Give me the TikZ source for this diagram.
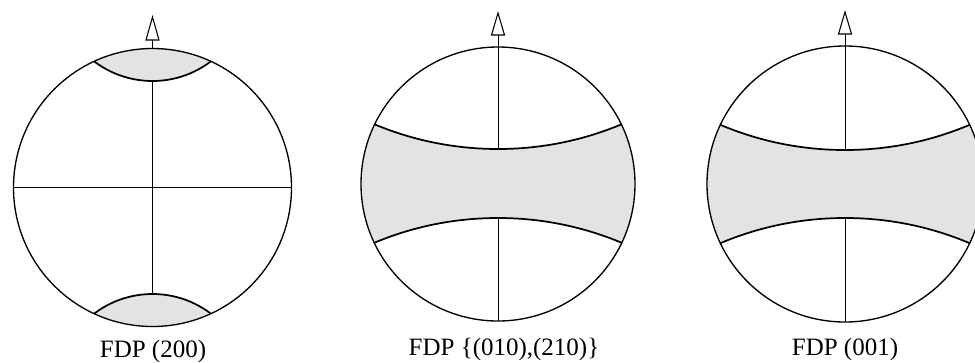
\documentclass[tikz,border=0pt]{standalone}
\usepackage{fontspec}
\setmainfont{Liberation Serif}
\begin{document}
\begin{tikzpicture}[x=0.75pt,y=-0.75pt,
  outline/.style={line width=1pt},
  bandedge/.style={line width=1.3pt},
  axisline/.style={line width=0.7pt},
  shadefill/.style={fill=gray!22},
  openhead/.style={fill=white, line width=0.8pt, line join=miter},
  caption/.style={font=\fontsize{18.75}{20}\selectfont, anchor=base, inner sep=0pt}]
\useasboundingbox (0,0) rectangle (975,362);

% ---------- pole figure 1 : FDP (200)
\coordinate (c1) at (152.5,187.5);
\coordinate (c1top) at (152.5,48.5);
\coordinate (c1bot) at (152.5,326.5);
\coordinate (c1left) at (13.5,187.5);
\coordinate (c1right) at (291.5,187.5);
\draw[axisline] (c1top) -- (c1bot);
\draw[axisline] (c1left) -- (c1right);
\begin{scope}
  \clip (c1) circle (139);
  \fill[shadefill] (152.5,-15.5) circle (96.5);
  \fill[shadefill] (152.5,390.5) circle (96.5);
  \draw[bandedge] (152.5,-15.5) circle (96.5);
  \draw[bandedge] (152.5,390.5) circle (96.5);
\end{scope}
\draw[outline] (c1) circle (139);
\coordinate (a1) at (152.5,40);
\draw[axisline] (c1top) -- (a1);
\draw[openhead] (146,40) -- (159,40) -- (152.5,17) -- cycle;
\node[caption] (t1) at (153,357) {FDP (200)};

% ---------- pole figure 2 : FDP {(010),(210)}
\coordinate (c2) at (498,184);
\coordinate (c2top) at (498,47);
\coordinate (c2bot) at (498,321);
\draw[axisline] (c2top) -- (c2bot);
\begin{scope}
  \clip (c2) circle (137);
  \fill[shadefill, even odd rule] (c2) circle (137) (498,-171) circle (320) (498,538) circle (320);
  \draw[bandedge] (498,-171) circle (320) (498,538) circle (320);
\end{scope}
\draw[outline] (c2) circle (137);
\coordinate (a2) at (498,35);
\draw[axisline] (c2top) -- (a2);
\draw[openhead] (491.5,35) -- (504.5,35) -- (498,13) -- cycle;
\node[caption] (t2) at (504,355) {FDP \{(010),(210)\}};

% ---------- pole figure 3 : FDP (001)
\coordinate (c3) at (845,184);
\coordinate (c3top) at (845,46);
\coordinate (c3bot) at (845,322);
\draw[axisline] (c3top) -- (c3bot);
\begin{scope}
  \clip (c3) circle (138);
  \fill[shadefill, even odd rule] (c3) circle (138) (845,-170) circle (320) (845,538) circle (320);
  \draw[bandedge] (845,-170) circle (320) (845,538) circle (320);
\end{scope}
\draw[outline] (c3) circle (138);
\coordinate (a3) at (845,34);
\draw[axisline] (c3top) -- (a3);
\draw[openhead] (838.5,34) -- (851.5,34) -- (845,12) -- cycle;
\node[caption] (t3) at (845,355) {FDP (001)};
\end{tikzpicture}
\end{document}
